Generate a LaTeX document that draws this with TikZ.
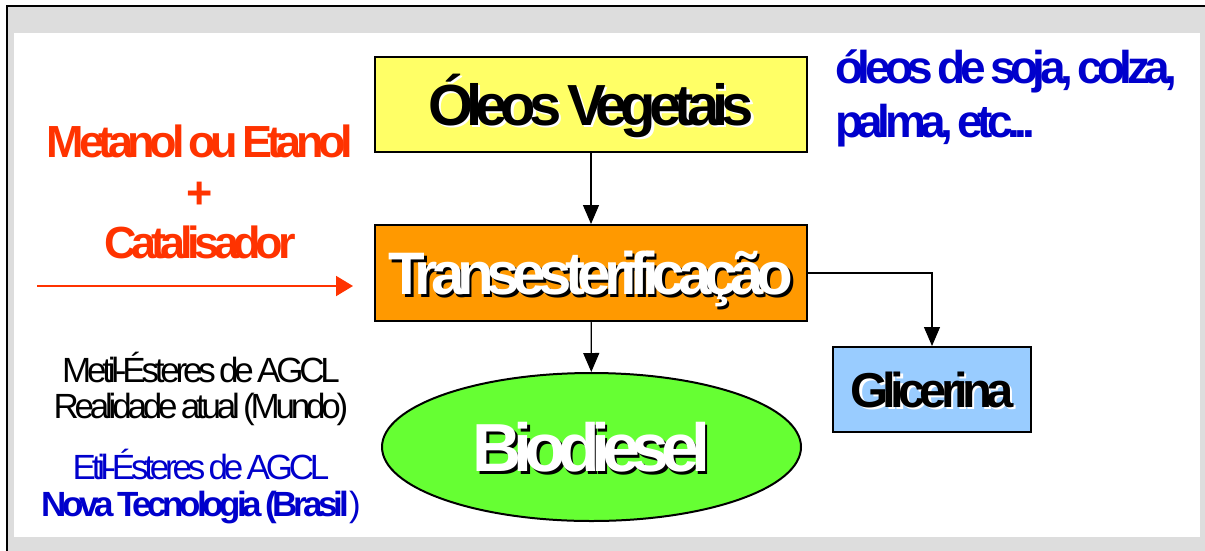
\documentclass[tikz,border=0pt]{standalone}
\usepackage{fontspec}
\setmainfont{Liberation Sans}
\newfontfamily\tight[LetterSpace=-12,WordSpace=0.6]{Liberation Sans}
\usetikzlibrary{arrows.meta,shapes.geometric,positioning}

\definecolor{framegray}{HTML}{DDDDDD}
\definecolor{oilyellow}{HTML}{FFFF66}
\definecolor{transorange}{HTML}{FF9900}
\definecolor{biogreen}{HTML}{66FF33}
\definecolor{glicblue}{HTML}{99CCFF}
\definecolor{reagentred}{HTML}{FF3300}
\definecolor{noteblue}{HTML}{0000CC}

% text with a drop shadow: foreground, shadow, text
\newcommand{\shadowed}[3]{\rlap{\kern2.5pt\raisebox{-2.5pt}{\color{#2}#3}}{\color{#1}#3}}

\begin{document}
\begin{tikzpicture}
[x=1pt,y=-1pt,
 box/.style={draw=black,line width=2pt,inner sep=0pt,text depth=0pt},
 flow/.style={-{Triangle[length=19pt,width=16pt]},line width=1.2pt},
 title/.style={font=\tight\bfseries\fontsize{#1}{#1}\selectfont}]
\useasboundingbox (0,0) rectangle (1205,550);
\clip (0,0) rectangle (1205,550);
% frame
\filldraw[fill=framegray,draw=black,line width=2pt] (7,6) rectangle (1215,560);
\fill[white] (14,33) rectangle (1200,537);

% process
\node[box,fill=oilyellow,minimum width=432pt,minimum height=95pt,
      title=58,text height=41pt] (oleos) at (591,104.5)
  {\shadowed{black}{white}{Óleos Vegetais}};
\node[box,fill=transorange,minimum width=432pt,minimum height=96pt,
      title=60,text height=43pt] (trans) at (591,273)
  {\shadowed{white}{black}{Transesterificação}};
\node[ellipse,draw=black,line width=2pt,fill=biogreen,inner sep=0pt,
      minimum width=419pt,minimum height=148pt,
      title=68,text height=49pt,text depth=0pt] (bio) at (591.5,447)
  {\shadowed{white}{black}{Biodiesel}};
\node[box,fill=glicblue,minimum width=198pt,minimum height=85pt,
      title=49,text height=35pt] (glic) at (932,389.5)
  {\shadowed{black}{white}{Glicerina}};

\draw[flow] (oleos) -- (trans);
\draw[flow] (trans) -- (bio);
\draw[flow] (trans.east) -| (glic.north);

% reagents
\node[align=center,inner sep=0pt,text=reagentred,
      font=\tight\bfseries\fontsize{45}{50.5}\selectfont] (reagent) at (200,192)
  {Metanol ou Etanol\\+\\Catalisador};
\coordinate (feedin) at (37,286);
\coordinate (feedout) at (353,286);
\draw[reagentred,line width=2pt,-{Triangle[length=17pt,width=20pt]}]
  (feedin) -- (feedout);

% notes
\node[anchor=north west,align=left,inner sep=0pt,text=noteblue,
      font=\tight\bfseries\fontsize{46}{54}\selectfont] (fontes) at (835,50)
  {óleos de soja, colza,\\palma, etc...};
\node[anchor=north,align=center,inner sep=0pt,
      font=\tight\fontsize{35}{36}\selectfont] (metil) at (201,352)
  {Metil-Ésteres de AGCL\\Realidade atual (Mundo)};
\node[anchor=north,align=center,inner sep=0pt,text=noteblue,
      font=\tight\fontsize{35}{37}\selectfont] (etil) at (201,449)
  {Etil-Ésteres de AGCL\\{\bfseries Nova Tecnologia (Brasil})};
\end{tikzpicture}
\end{document}
